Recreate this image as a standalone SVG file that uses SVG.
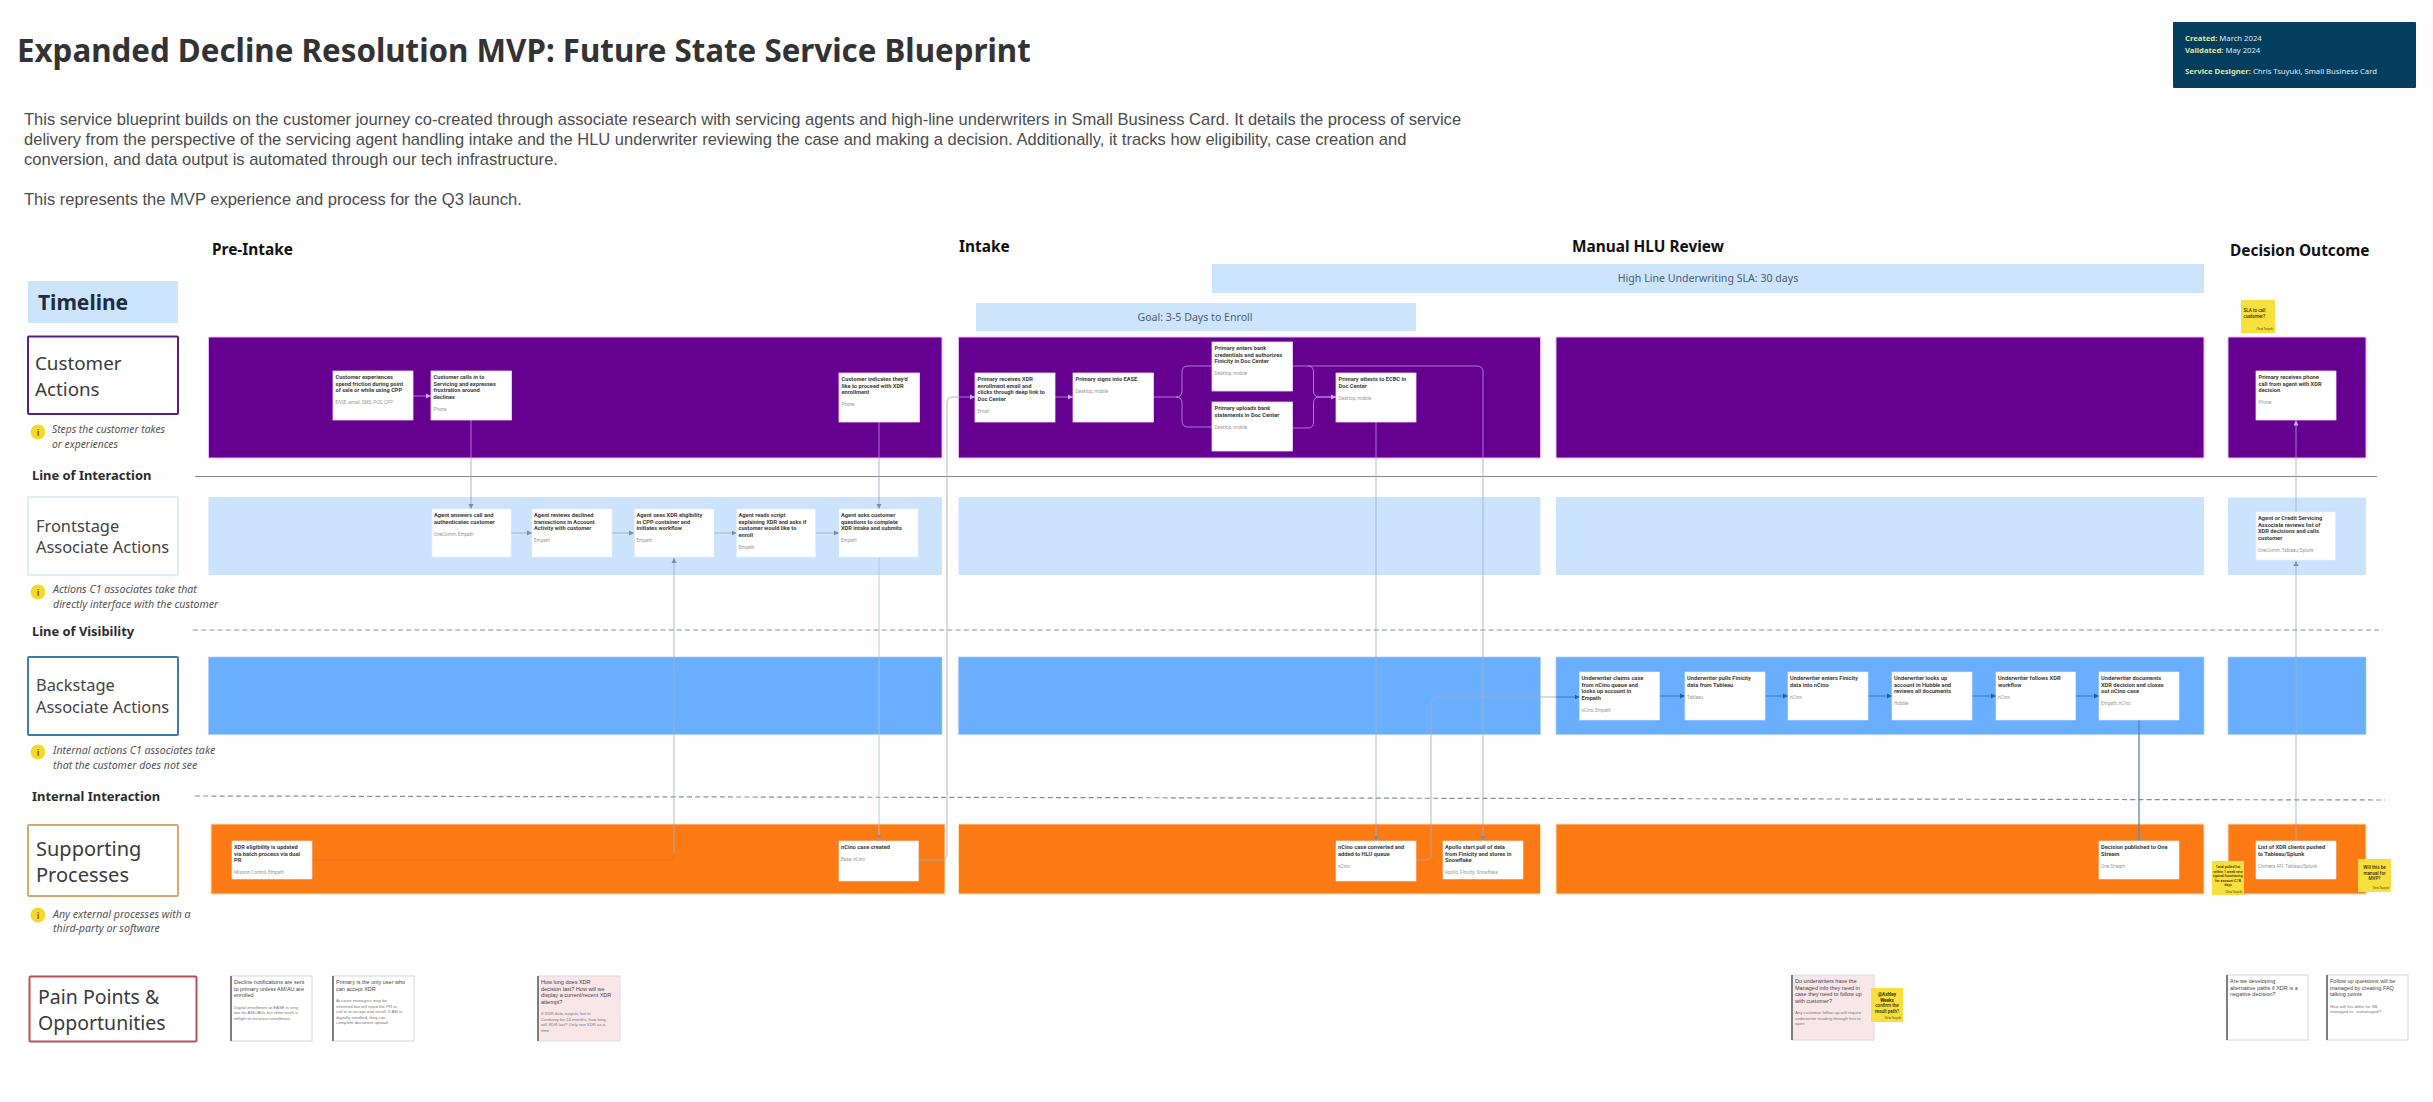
<svg xmlns="http://www.w3.org/2000/svg" width="2433" height="1102" viewBox="0 0 2433 1102">
<defs>
<style>
text{font-family:"Noto Sans","Liberation Sans",sans-serif}
.title{font-size:31.3px;font-weight:700;fill:#333}
.desc{font-family:"Liberation Sans",Arial,sans-serif;font-size:16.55px;fill:#4c4c4c}
.phase{font-size:15.4px;font-weight:700;fill:#111}
.rowl{font-size:19.5px;fill:#3a3a3a}
.rowm{font-size:16.4px;fill:#444}
.lab{font-size:12.9px;font-weight:700;fill:#2c2c2c}
.hint{font-size:10.6px;font-style:italic;fill:#555}
.i{font-size:9px;font-weight:700;fill:#8a6d00;text-anchor:middle}
.ico{fill:#f5d82e}
.bar{fill:#cde4fd}
.bart{font-size:10.6px;fill:#4a6074;text-anchor:middle}
.pu{fill:#660091;stroke:#eab8ff;stroke-width:1}
.fr{fill:#cce3fd}
.ba{fill:#6aaeff;stroke:#a9d0fb;stroke-width:.7}
.or{fill:#fb7a14;stroke:#fde0b8;stroke-width:1}
.card{fill:#fff;stroke:#f0d8fa;stroke-width:.8}
.card2{fill:#fff;stroke:#e4eefa;stroke-width:.6}
.ct{font-family:Roboto,"Liberation Sans",sans-serif;font-size:5.7px;font-weight:700;fill:#3b3b3b}
.cs{font-family:Roboto,"Liberation Sans",sans-serif;font-size:4.6px;fill:#999}
.note{fill:#fff;stroke:#c9ccd0;stroke-width:.8}
.pink{fill:#f9e6e8;stroke:#e3d3d6;stroke-width:.8}
.edge{stroke:#6f7276;stroke-width:1.8}
.nt{font-family:"Liberation Sans",Arial,sans-serif;font-size:5.5px;fill:#444}
.ns{font-family:"Liberation Sans",Arial,sans-serif;font-size:4.3px;fill:#777}
.st{fill:#f7df3d}
.stt{font-family:Roboto,"Liberation Sans",sans-serif;font-size:4.6px;font-weight:500;fill:#3a3000;text-anchor:middle}
.sts{font-size:3.6px}
.sta{font-family:Roboto,"Liberation Sans",sans-serif;font-size:2.8px;fill:#4a4000;text-anchor:end}
.c{fill:none;stroke-width:.85}
.g{stroke:#a3adb8}
.f{stroke:#afc6cb}
.l{stroke:#b68cf0}
.v{stroke:#a39cd6}
.d{stroke:#2f72bd}
.m{stroke:#5d86a8;stroke-width:1.3}
.o{stroke:#e2701c}
.ag{marker-end:url(#ag)}
.al{marker-end:url(#al)}
.ad{marker-end:url(#ad)}
.lineS{stroke:#8a8a8a;stroke-width:1.1;fill:none}
.lineD{stroke:#8a8f95;stroke-width:1.2;stroke-dasharray:5 3.2;fill:none}
.m1{font-size:7.7px;fill:#dfeaf2}
.m2{font-weight:700;fill:#dbe89a}
</style>
<marker id="ag" markerUnits="userSpaceOnUse" markerWidth="6" markerHeight="6" refX="5" refY="3" orient="auto"><path d="M0 .5L5 3L0 5.5z" fill="#7f8d9c"/></marker>
<marker id="al" markerUnits="userSpaceOnUse" markerWidth="6" markerHeight="6" refX="5" refY="3" orient="auto"><path d="M0 .5L5 3L0 5.5z" fill="#c9a8f5"/></marker>
<marker id="ad" markerUnits="userSpaceOnUse" markerWidth="6" markerHeight="6" refX="5" refY="3" orient="auto"><path d="M0 .5L5 3L0 5.5z" fill="#1f5fa8"/></marker>
</defs>
<rect width="2433" height="1102" fill="#fefefe"/>

<g id="header">
<text class="title" x="17" y="62">Expanded Decline Resolution MVP: Future State Service Blueprint</text>
<text class="desc" x="24" y="125">This service blueprint builds on the customer journey co-created through associate research with servicing agents and high-line underwriters in Small Business Card. It details the process of service</text>
<text class="desc" x="24" y="145">delivery from the perspective of the servicing agent handling intake and the HLU underwriter reviewing the case and making a decision. Additionally, it tracks how eligibility, case creation and</text>
<text class="desc" x="24" y="165">conversion, and data output is automated through our tech infrastructure.</text>
<text class="desc" x="24" y="205">This represents the MVP experience and process for the Q3 launch.</text>
</g>

<g id="meta">
<rect x="2173" y="22" width="243" height="66" rx="1" fill="#033e5f"/>
<text class="m1" x="2185" y="41"><tspan class="m2">Created:</tspan> March 2024</text>
<text class="m1" x="2185" y="53"><tspan class="m2">Validated:</tspan> May 2024</text>
<text class="m1" x="2185" y="74"><tspan class="m2">Service Designer:</tspan> Chris Tsuyuki, Small Business Card</text>
</g>

<g id="phases">
<text class="phase" x="212" y="255">Pre-Intake</text>
<text class="phase" x="959" y="252">Intake</text>
<text class="phase" x="1572" y="252">Manual HLU Review</text>
<text class="phase" x="2230" y="256">Decision Outcome</text>
</g>

<g id="timeline-bars">
<rect class="bar" x="1212" y="264" width="992" height="29"/>
<text class="bart" x="1708" y="282">High Line Underwriting SLA: 30 days</text>
<rect class="bar" x="976" y="303" width="440" height="28"/>
<text class="bart" x="1195" y="320.5">Goal: 3-5 Days to Enroll</text>
</g>

<g id="row-labels">
<g id="label-timeline"><rect class="bar" x="28" y="281" width="150" height="42"/><text x="38" y="310" font-size="21" font-weight="700" fill="#1e2d3d">Timeline</text></g>
<g id="label-customer"><rect x="28" y="336.5" width="150" height="77.5" rx="1" fill="#fff" stroke="#5c1e7c" stroke-width="2"/><text class="rowl" style="font-size:18.8px" x="35" y="370">Customer</text><text class="rowl" style="font-size:18.8px" x="35" y="396">Actions</text>
<circle class="ico" cx="38" cy="432" r="7.5"/><text class="i" x="38" y="435.5">i</text><text class="hint" style="font-size:10.3px" x="52" y="433">Steps the customer takes</text><text class="hint" style="font-size:10.3px" x="52" y="448">or experiences</text></g>
<g id="label-frontstage"><rect x="28" y="497" width="150" height="78" rx="1" fill="#fff" stroke="#d9e6f0" stroke-width="1.6"/><text class="rowm" x="36" y="532">Frontstage</text><text class="rowm" x="36" y="553">Associate Actions</text>
<circle class="ico" cx="38" cy="592" r="7.5"/><text class="i" x="38" y="595.5">i</text><text class="hint" x="53" y="593">Actions C1 associates take that</text><text class="hint" x="53" y="608">directly interface with the customer</text></g>
<g id="label-backstage"><rect x="28" y="657" width="150" height="78" rx="1" fill="#fff" stroke="#3f7ca8" stroke-width="2"/><text class="rowm" x="36" y="691">Backstage</text><text class="rowm" x="36" y="713">Associate Actions</text>
<circle class="ico" cx="38" cy="752" r="7.5"/><text class="i" x="38" y="755.5">i</text><text class="hint" x="53" y="754">Internal actions C1 associates take</text><text class="hint" x="53" y="769">that the customer does not see</text></g>
<g id="label-supporting"><rect x="28" y="825" width="150" height="71" rx="1" fill="#fff" stroke="#d9a871" stroke-width="2"/><text class="rowl" style="font-size:20px" x="36" y="856">Supporting</text><text class="rowl" style="font-size:20px" x="36" y="882">Processes</text>
<circle class="ico" cx="38" cy="915" r="7.5"/><text class="i" x="38" y="918.5">i</text><text class="hint" x="53" y="918">Any external processes with a</text><text class="hint" x="53" y="932">third-party or software</text></g>
<g id="label-pain"><rect x="29.5" y="976.5" width="167" height="65" rx="1" fill="#fff" stroke="#b8525a" stroke-width="2"/><text class="rowl" x="38" y="1003.5">Pain Points &amp;</text><text class="rowl" x="38" y="1030">Opportunities</text></g>
<text class="lab" x="32" y="480">Line of Interaction</text>
<text class="lab" x="32" y="636">Line of Visibility</text>
<text class="lab" x="32" y="801">Internal Interaction</text>
</g>

<g id="lanes">
<rect class="pu" x="208.5" y="337" width="733.5" height="121" rx="1"/><rect class="pu" x="958.5" y="337" width="582" height="121" rx="1"/><rect class="pu" x="1556" y="337" width="648" height="121" rx="1"/><rect class="pu" x="2228" y="337" width="138" height="121" rx="1"/>
<rect class="fr" x="208.5" y="497" width="733.5" height="78" rx="1"/><rect class="fr" x="958.5" y="497" width="582" height="78" rx="1"/><rect class="fr" x="1556" y="497" width="648" height="78" rx="1"/><rect class="fr" x="2228" y="497.5" width="138" height="77.5" rx="1"/>
<rect class="ba" x="208.5" y="657" width="733.5" height="77.5"/><rect class="ba" x="958.5" y="657" width="582" height="77.5"/><rect class="ba" x="1556" y="657" width="648" height="77.5"/><rect class="ba" x="2228" y="657" width="138" height="77.5"/>
<rect class="or" x="211" y="824" width="734" height="70"/><rect class="or" x="958.5" y="824" width="582" height="70"/><rect class="or" x="1556" y="824" width="648" height="70"/><rect class="or" x="2228" y="824" width="138" height="70"/>
</g>

<g id="divider-lines">
<path class="lineS" d="M195 476.5H2377"/>
<path class="lineD" d="M193 630H2383"/>
<path class="lineD" d="M195 796L2385 800"/>
</g>

<g id="connectors">
<path class="c l al" d="M413 396H431"/>
<path class="c l" d="M471 420V458"/><path class="c v ag" d="M471 458V509"/>
<path class="c l" d="M879 422V458"/><path class="c v ag" d="M879 458V509"/>
<path class="c g ag" d="M511 533H532"/><path class="c g ag" d="M612 533H634"/><path class="c g ag" d="M714 533H736.5"/><path class="c g ag" d="M815.5 533H839"/>
<path class="c o" d="M312 860H668"/><path class="c g ag" d="M674 854V558"/><path class="c o" d="M668 860Q674 860 674 854"/>
<path class="c f ag" d="M879 557V840"/>
<path class="c g" d="M918.5 860H941Q947 860 947 854V403Q947 397 953 397H958.5"/><path class="c l al" d="M958.5 397H975"/>
<path class="c l al" d="M1055 397H1073"/>
<path class="c l" d="M1153.5 397H1176Q1182 397 1182 391V372Q1182 366 1188 366H1212"/><path class="c l" d="M1176 397Q1182 397 1182 403V421Q1182 427 1188 427H1212"/>
<path class="c l" d="M1292.5 366H1308Q1313.5 366 1313.5 372V391Q1313.5 397 1319 397H1336"/><path class="c l" d="M1292.5 428H1308Q1313.5 428 1313.5 422V403Q1313.5 397 1319 397"/>
<path class="c l al" d="M1319 397H1336"/>
<path class="c l" d="M1308 366H1477Q1483 366 1483 372V458"/><path class="c g ag" d="M1483 458V841"/>
<path class="c l" d="M1376 422V458"/><path class="c g ag" d="M1376 458V841"/>
<path class="c g" d="M1416 860H1425Q1431 860 1431 854V703Q1431 697 1437 697H1556"/><path class="c d ad" d="M1556 697H1579.5"/>
<path class="c d ad" d="M1659.5 696H1685"/><path class="c d ad" d="M1765 696H1788"/><path class="c d ad" d="M1868 696H1892"/><path class="c d ad" d="M1972 696H1996"/><path class="c d ad" d="M2075 696H2099"/>
<path class="c m ag" d="M2139 720V841"/>
<path class="c g ag" d="M2296 841V561"/><path class="c g" d="M2296 512V458"/><path class="c v al" d="M2296 458V420.5"/>
</g>

<g id="n-cust1" transform="translate(333 371)"><rect class="card" width="80" height="49"/><text class="ct"><tspan x="2.5" y="8">Customer experiences</tspan><tspan x="2.5" y="14.7">spend friction during point</tspan><tspan x="2.5" y="21.3">of sale or while using CPP</tspan></text><text class="cs" x="2.5" y="33">EASE, email, SMS, POS, CPP</text></g>
<g id="n-cust2" transform="translate(431 371)"><rect class="card" width="80.5" height="49"/><text class="ct"><tspan x="2.5" y="8">Customer calls in to</tspan><tspan x="2.5" y="14.7">Servicing and expresses</tspan><tspan x="2.5" y="21.3">frustration around</tspan><tspan x="2.5" y="28">declines</tspan></text><text class="cs" x="2.5" y="39.5">Phone</text></g>
<g id="n-cust3" transform="translate(839 373)"><rect class="card" width="80.5" height="49"/><text class="ct"><tspan x="2.5" y="8">Customer indicates they'd</tspan><tspan x="2.5" y="14.7">like to proceed with XDR</tspan><tspan x="2.5" y="21.3">enrollment</tspan></text><text class="cs" x="2.5" y="33">Phone</text></g>

<g id="n-agent1" transform="translate(432 509)"><rect class="card2" width="79" height="48"/><text class="ct"><tspan x="2" y="8">Agent answers call and</tspan><tspan x="2" y="14.7">authenticates customer</tspan></text><text class="cs" x="2" y="26.5">OneComm, Empath</text></g>
<g id="n-agent2" transform="translate(532 509)"><rect class="card2" width="80" height="48"/><text class="ct"><tspan x="2" y="8">Agent reviews declined</tspan><tspan x="2" y="14.7">transactions in Account</tspan><tspan x="2" y="21.3">Activity with customer</tspan></text><text class="cs" x="2" y="33">Empath</text></g>
<g id="n-agent3" transform="translate(634.5 509)"><rect class="card2" width="79.5" height="48"/><text class="ct"><tspan x="2" y="8">Agent sees XDR eligibility</tspan><tspan x="2" y="14.7">in CPP container and</tspan><tspan x="2" y="21.3">initiates workflow</tspan></text><text class="cs" x="2" y="33">Empath</text></g>
<g id="n-agent4" transform="translate(736.5 509)"><rect class="card2" width="79" height="48"/><text class="ct"><tspan x="2" y="8">Agent reads script</tspan><tspan x="2" y="14.7">explaining XDR and asks if</tspan><tspan x="2" y="21.3">customer would like to</tspan><tspan x="2" y="28">enroll</tspan></text><text class="cs" x="2" y="39.5">Empath</text></g>
<g id="n-agent5" transform="translate(839 509)"><rect class="card2" width="79" height="48"/><text class="ct"><tspan x="2" y="8">Agent asks customer</tspan><tspan x="2" y="14.7">questions to complete</tspan><tspan x="2" y="21.3">XDR intake and submits</tspan></text><text class="cs" x="2" y="33">Empath</text></g>

<g id="n-prim1" transform="translate(975 373)"><rect class="card" width="80" height="49"/><text class="ct"><tspan x="2.5" y="8">Primary receives XDR</tspan><tspan x="2.5" y="14.7">enrollment email and</tspan><tspan x="2.5" y="21.3">clicks through deep link to</tspan><tspan x="2.5" y="28">Doc Center</tspan></text><text class="cs" x="2.5" y="39.5">Email</text></g>
<g id="n-prim2" transform="translate(1073 373)"><rect class="card" width="80.5" height="49"/><text class="ct"><tspan x="2.5" y="8">Primary signs into EASE</tspan></text><text class="cs" x="2.5" y="19.5">Desktop, mobile</text></g>
<g id="n-prim3" transform="translate(1212 342)"><rect class="card" width="80.5" height="49"/><text class="ct"><tspan x="2.5" y="8">Primary enters bank</tspan><tspan x="2.5" y="14.7">credentials and authorizes</tspan><tspan x="2.5" y="21.3">Finicity in Doc Center</tspan></text><text class="cs" x="2.5" y="33">Desktop, mobile</text></g>
<g id="n-prim4" transform="translate(1212 402)"><rect class="card" width="80.5" height="49"/><text class="ct"><tspan x="2.5" y="8">Primary uploads bank</tspan><tspan x="2.5" y="14.7">statements in Doc Center</tspan></text><text class="cs" x="2.5" y="26.5">Desktop, mobile</text></g>
<g id="n-prim5" transform="translate(1336 373)"><rect class="card" width="80" height="49"/><text class="ct"><tspan x="2.5" y="8">Primary attests to ECBC in</tspan><tspan x="2.5" y="14.7">Doc Center</tspan></text><text class="cs" x="2.5" y="26.5">Desktop, mobile</text></g>
<g id="n-prim6" transform="translate(2256 371)"><rect class="card" width="80" height="49"/><text class="ct"><tspan x="2.5" y="8">Primary receives phone</tspan><tspan x="2.5" y="14.7">call from agent with XDR</tspan><tspan x="2.5" y="21.3">decision</tspan></text><text class="cs" x="2.5" y="33">Phone</text></g>
<g id="n-agent6" transform="translate(2256 512)"><rect class="card2" width="79.5" height="48"/><text class="ct"><tspan x="2" y="8">Agent or Credit Servicing</tspan><tspan x="2" y="14.7">Associate reviews list of</tspan><tspan x="2" y="21.3">XDR decisions and calls</tspan><tspan x="2" y="28">customer</tspan></text><text class="cs" x="2" y="39.5">OneComm, Tableau/Splunk</text></g>

<g id="n-uw1" transform="translate(1579.5 672)"><rect class="card2" width="80" height="48"/><text class="ct"><tspan x="2" y="8">Underwriter claims case</tspan><tspan x="2" y="14.7">from nCino queue and</tspan><tspan x="2" y="21.3">looks up account in</tspan><tspan x="2" y="28">Empath</tspan></text><text class="cs" x="2" y="39.5">nCino, Empath</text></g>
<g id="n-uw2" transform="translate(1685 672)"><rect class="card2" width="80" height="48"/><text class="ct"><tspan x="2" y="8">Underwriter pulls Finicity</tspan><tspan x="2" y="14.7">data from Tableau</tspan></text><text class="cs" x="2" y="26.5">Tableau</text></g>
<g id="n-uw3" transform="translate(1788 672)"><rect class="card2" width="80" height="48"/><text class="ct"><tspan x="2" y="8">Underwriter enters Finicity</tspan><tspan x="2" y="14.7">data into nCino</tspan></text><text class="cs" x="2" y="26.5">nCino</text></g>
<g id="n-uw4" transform="translate(1892 672)"><rect class="card2" width="80" height="48"/><text class="ct"><tspan x="2" y="8">Underwriter looks up</tspan><tspan x="2" y="14.7">account in Hubble and</tspan><tspan x="2" y="21.3">reviews all documents</tspan></text><text class="cs" x="2" y="33">Hubble</text></g>
<g id="n-uw5" transform="translate(1996 672)"><rect class="card2" width="79.5" height="48"/><text class="ct"><tspan x="2" y="8">Underwriter follows XDR</tspan><tspan x="2" y="14.7">workflow</tspan></text><text class="cs" x="2" y="26.5">nCino</text></g>
<g id="n-uw6" transform="translate(2099 672)"><rect class="card2" width="80" height="48"/><text class="ct"><tspan x="2" y="8">Underwriter documents</tspan><tspan x="2" y="14.7">XDR decision and closes</tspan><tspan x="2" y="21.3">out nCino case</tspan></text><text class="cs" x="2" y="33">Empath, nCino</text></g>

<g id="n-sup1" transform="translate(232 841)"><rect class="card2" width="80" height="38"/><text class="ct"><tspan x="2" y="8">XDR eligibility is updated</tspan><tspan x="2" y="14.7">via batch process via dual</tspan><tspan x="2" y="21.3">PR</tspan></text><text class="cs" x="2" y="33">Mission Control, Empath</text></g>
<g id="n-sup2" transform="translate(839 841)"><rect class="card2" width="79.5" height="40"/><text class="ct"><tspan x="2" y="8">nCino case created</tspan></text><text class="cs" x="2" y="19.5">Base, nCino</text></g>
<g id="n-sup3" transform="translate(1336 841)"><rect class="card2" width="80" height="40"/><text class="ct"><tspan x="2" y="8">nCino case converted and</tspan><tspan x="2" y="14.7">added to HLU queue</tspan></text><text class="cs" x="2" y="26.5">nCino</text></g>
<g id="n-sup4" transform="translate(1443 841)"><rect class="card2" width="80" height="38"/><text class="ct"><tspan x="2" y="8">Apollo start pull of data</tspan><tspan x="2" y="14.7">from Finicity and stores in</tspan><tspan x="2" y="21.3">Snowflake</tspan></text><text class="cs" x="2" y="33">Apollo, Finicity, Snowflake</text></g>
<g id="n-sup5" transform="translate(2099 841)"><rect class="card2" width="80" height="38"/><text class="ct"><tspan x="2" y="8">Decision published to One</tspan><tspan x="2" y="14.7">Stream</tspan></text><text class="cs" x="2" y="27">One Stream</text></g>
<g id="n-sup6" transform="translate(2256 841)"><rect class="card2" width="80" height="38"/><text class="ct"><tspan x="2" y="8">List of XDR clients pushed</tspan><tspan x="2" y="14.7">to Tableau/Splunk</tspan></text><text class="cs" x="2" y="27">Chimera API, Tableau/Splunk</text></g>

<g id="note1" transform="translate(231 976)"><rect class="note" width="81" height="65"/><path class="edge" d="M0 0V65"/><text class="nt"><tspan x="3" y="8">Decline notifications are sent</tspan><tspan x="3" y="14.7">to primary unless AM/AU are</tspan><tspan x="3" y="21.3">enrolled</tspan></text><text class="ns"><tspan x="3" y="32.5">Digital enrollment at EASE is very</tspan><tspan x="3" y="38">low for AMs/AUs but other work is</tspan><tspan x="3" y="43.5">inflight to increase enrollment</tspan></text></g>
<g id="note2" transform="translate(333 976)"><rect class="note" width="81" height="65"/><path class="edge" d="M0 0V65"/><text class="nt"><tspan x="3" y="8">Primary is the only user who</tspan><tspan x="3" y="14.7">can accept XDR</tspan></text><text class="ns"><tspan x="3" y="26">Account managers may be</tspan><tspan x="3" y="31.5">informed but will need the PR to</tspan><tspan x="3" y="37">call in to accept and enroll. If AM is</tspan><tspan x="3" y="42.5">digitally enrolled, they can</tspan><tspan x="3" y="48">complete document upload</tspan></text></g>
<g id="note3" transform="translate(538 976)"><rect class="pink" width="82" height="65"/><path class="edge" d="M0 0V65"/><text class="nt"><tspan x="3" y="8">How long does XDR</tspan><tspan x="3" y="14.7">decision last? How will we</tspan><tspan x="3" y="21.3">display a current/recent XDR</tspan><tspan x="3" y="28">attempt?</tspan></text><text class="ns"><tspan x="3" y="39">If XDR data outputs live in</tspan><tspan x="3" y="44.5">Corduroy for 24 months, how long</tspan><tspan x="3" y="50">will XDR last? Only see XDR as a</tspan><tspan x="3" y="55.5">time</tspan></text></g>
<g id="note4" transform="translate(1792 975)"><rect class="pink" width="82" height="65"/><path class="edge" d="M0 0V65"/><text class="nt"><tspan x="3" y="8">Do underwriters have the</tspan><tspan x="3" y="14.7">Managed info they need in</tspan><tspan x="3" y="21.3">case they need to follow up</tspan><tspan x="3" y="28">with customer?</tspan></text><text class="ns"><tspan x="3" y="39">Any customer follow up will require</tspan><tspan x="3" y="44.5">underwriter reading through first to</tspan><tspan x="3" y="50">open</tspan></text></g>
<g id="note5" transform="translate(2227 975)"><rect class="note" width="81" height="65"/><path class="edge" d="M0 0V65"/><text class="nt"><tspan x="3" y="8">Are we developing</tspan><tspan x="3" y="14.7">alternative paths if XDR is a</tspan><tspan x="3" y="21.3">negative decision?</tspan></text></g>
<g id="note6" transform="translate(2327 975)"><rect class="note" width="81" height="65"/><path class="edge" d="M0 0V65"/><text class="nt"><tspan x="3" y="8">Follow up questions will be</tspan><tspan x="3" y="14.7">managed by creating FAQ</tspan><tspan x="3" y="21.3">talking points</tspan></text><text class="ns"><tspan x="3" y="32.5">How will this differ for SB</tspan><tspan x="3" y="38">managed vs. unmanaged?</tspan></text></g>

<g id="sticky1" transform="translate(2241 300)"><rect class="st" width="34" height="33"/><text class="stt" style="text-anchor:start"><tspan x="2.5" y="12">SLA to call</tspan><tspan x="2.5" y="17.5">customer?</tspan></text><text class="sta" x="32" y="30">Chris Tsuyuki</text></g>
<g id="sticky2" transform="translate(2212 861)"><rect class="st" width="32" height="34"/><text class="stt sts"><tspan x="16" y="7">Total pulled list</tspan><tspan x="16" y="11.5">within 1 week new</tspan><tspan x="16" y="16">typical functioning</tspan><tspan x="16" y="20.5">for account C1B</tspan><tspan x="16" y="25">days</tspan></text><text class="sta" x="30" y="31.5">Chris Tsuyuki</text></g>
<g id="sticky3" transform="translate(2358 859)"><rect class="st" width="33" height="33"/><text class="stt"><tspan x="16.5" y="10">Will this be</tspan><tspan x="16.5" y="15.5">manual for</tspan><tspan x="16.5" y="21">MVP?</tspan></text><text class="sta" x="31" y="30">Chris Tsuyuki</text></g>
<g id="sticky4" transform="translate(1871 988)"><rect class="st" width="32" height="34"/><text class="stt"><tspan x="16" y="8" font-weight="700">@Ashley</tspan><tspan x="16" y="13.5" font-weight="700">Weeks</tspan><tspan x="16" y="19">confirm the</tspan><tspan x="16" y="24.5">result path?</tspan></text><text class="sta" x="30" y="30.5">Chris Tsuyuki</text></g>
</svg>
